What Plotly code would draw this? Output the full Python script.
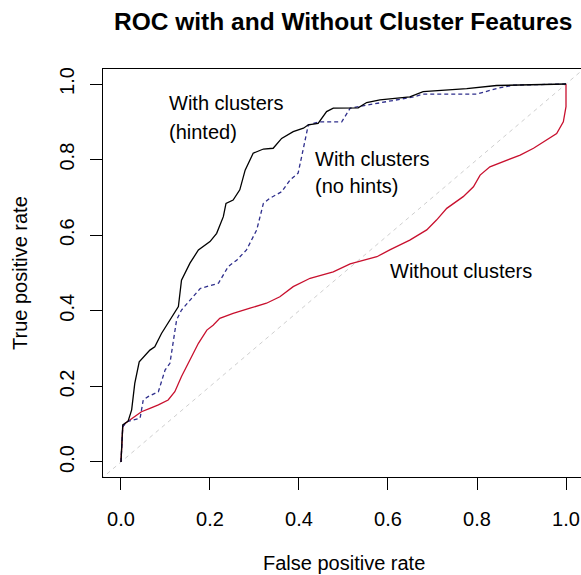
import plotly.graph_objects as go

# ---- data ----
fpr_hinted = [0.0, 0.004, 0.016, 0.024, 0.031, 0.041, 0.065, 0.076, 0.091, 0.110, 0.129, 0.136,
              0.155, 0.174, 0.200, 0.215, 0.230, 0.236, 0.252, 0.267, 0.279, 0.297, 0.320, 0.342,
              0.361, 0.387, 0.410, 0.421, 0.443, 0.462, 0.477, 0.533, 0.552, 0.582, 0.649, 0.679,
              0.777, 0.844, 1.0]
tpr_hinted = [0.0, 0.098, 0.108, 0.138, 0.208, 0.265, 0.296, 0.305, 0.340, 0.376, 0.411, 0.481,
              0.526, 0.561, 0.583, 0.605, 0.649, 0.684, 0.693, 0.720, 0.772, 0.817, 0.828, 0.830,
              0.856, 0.874, 0.883, 0.892, 0.896, 0.927, 0.936, 0.937, 0.951, 0.958, 0.966, 0.980,
              0.988, 0.996, 1.0]

fpr_nohints = [0.0, 0.004, 0.013, 0.043, 0.050, 0.061, 0.084, 0.099, 0.110, 0.125, 0.136, 0.163,
               0.178, 0.219, 0.241, 0.260, 0.282, 0.305, 0.320, 0.335, 0.361, 0.380, 0.398, 0.406,
               0.421, 0.447, 0.496, 0.515, 0.533, 0.657, 0.679, 0.799, 0.844, 0.882, 1.0]
tpr_nohints = [0.0, 0.093, 0.107, 0.116, 0.164, 0.173, 0.186, 0.243, 0.261, 0.376, 0.402, 0.437,
               0.459, 0.473, 0.517, 0.534, 0.561, 0.614, 0.684, 0.698, 0.715, 0.746, 0.764, 0.808,
               0.892, 0.900, 0.900, 0.936, 0.940, 0.966, 0.973, 0.973, 0.988, 0.997, 1.0]

fpr_without = [0.0, 0.004, 0.009, 0.020, 0.046, 0.065, 0.084, 0.106, 0.121, 0.136, 0.155, 0.174,
               0.193, 0.207, 0.222, 0.252, 0.290, 0.327, 0.357, 0.387, 0.425, 0.477, 0.515, 0.575,
               0.604, 0.649, 0.687, 0.709, 0.732, 0.769, 0.792, 0.807, 0.829, 0.867, 0.897, 0.927,
               0.957, 0.979, 0.994, 1.0, 1.0]
tpr_without = [0.0, 0.093, 0.102, 0.111, 0.133, 0.142, 0.151, 0.164, 0.186, 0.226, 0.270, 0.314,
               0.349, 0.362, 0.380, 0.393, 0.407, 0.420, 0.437, 0.464, 0.486, 0.503, 0.524, 0.543,
               0.561, 0.587, 0.614, 0.640, 0.671, 0.702, 0.728, 0.759, 0.781, 0.799, 0.812, 0.830,
               0.852, 0.869, 0.900, 0.940, 1.0]

diag_x = [-0.1, 1.1]
diag_y = [-0.1, 1.1]

tick_vals = [0.0, 0.2, 0.4, 0.6, 0.8, 1.0]
tick_text = ["0.0", "0.2", "0.4", "0.6", "0.8", "1.0"]

labels = ["With clusters", "(hinted)", "With clusters", "(no hints)", "Without clusters"]
label_x = [0.1027, 0.1027, 0.432, 0.432, 0.601]
label_y = [0.949, 0.873, 0.802, 0.730, 0.505]

FONT = "Liberation Sans, Arial, Helvetica, sans-serif"
W, H = 581, 575
ML, MR, MT, MB = 103, 0, 69, 98


def px_to_paper(px, py):
    return (px - ML) / (W - ML - MR), (H - MB - py) / (H - MT - MB)


fig = go.Figure()
fig.add_trace(go.Scatter(x=diag_x, y=diag_y, mode="lines",
                         line=dict(color="#cfcfcf", width=1, dash="4px,4px"),
                         hoverinfo="skip", showlegend=False))
fig.add_trace(go.Scatter(x=fpr_without, y=tpr_without, mode="lines",
                         line=dict(color="#c8102e", width=1.3), showlegend=False))
fig.add_trace(go.Scatter(x=fpr_nohints, y=tpr_nohints, mode="lines",
                         line=dict(color="#2e2e8c", width=1.3, dash="4px,3px"), showlegend=False))
fig.add_trace(go.Scatter(x=fpr_hinted, y=tpr_hinted, mode="lines",
                         line=dict(color="#000000", width=1.3), showlegend=False))

for t, x, y in zip(labels, label_x, label_y):
    fig.add_annotation(x=x, y=y, xref="x", yref="y", text=t, showarrow=False,
                       xanchor="left", yanchor="middle",
                       font=dict(family=FONT, size=20, color="#000"))

# title and axis titles
tx, ty = px_to_paper(343, 22)
fig.add_annotation(x=tx, y=ty, xref="paper", yref="paper", text="<b>ROC with and Without Cluster Features</b>",
                   showarrow=False, xanchor="center", yanchor="middle",
                   font=dict(family=FONT, size=24.5, color="#000"))
ax, ay = px_to_paper(344, 563)
fig.add_annotation(x=ax, y=ay, xref="paper", yref="paper", text="False positive rate",
                   showarrow=False, xanchor="center", yanchor="middle",
                   font=dict(family=FONT, size=20, color="#000"))
bx, by = px_to_paper(20, 273)
fig.add_annotation(x=bx, y=by, xref="paper", yref="paper", text="True positive rate",
                   showarrow=False, xanchor="center", yanchor="middle", textangle=-90,
                   font=dict(family=FONT, size=20, color="#000"))

axis_common = dict(tickmode="array", tickvals=tick_vals, ticktext=tick_text,
                   ticks="outside", ticklen=12, tickwidth=1, tickcolor="#000",
                   showline=True, linecolor="#000", linewidth=1,
                   showgrid=False, zeroline=False,
                   tickfont=dict(family=FONT, size=20, color="#000"))

fig.update_layout(
    width=W, height=H,
    margin=dict(l=ML, r=MR, t=MT, b=MB, autoexpand=False),
    plot_bgcolor="white", paper_bgcolor="white",
    xaxis=dict(range=[-0.0404, 1.0337], mirror=True, ticklabelstandoff=12, **axis_common),
    yaxis=dict(range=[-0.0397, 1.0397], mirror=False, tickangle=-90, ticklabelstandoff=8, **axis_common),
)

fig.write_html("out.html", config={"displayModeBar": False},
               post_script="document.body.style.margin='0';document.body.style.overflow='hidden';")
